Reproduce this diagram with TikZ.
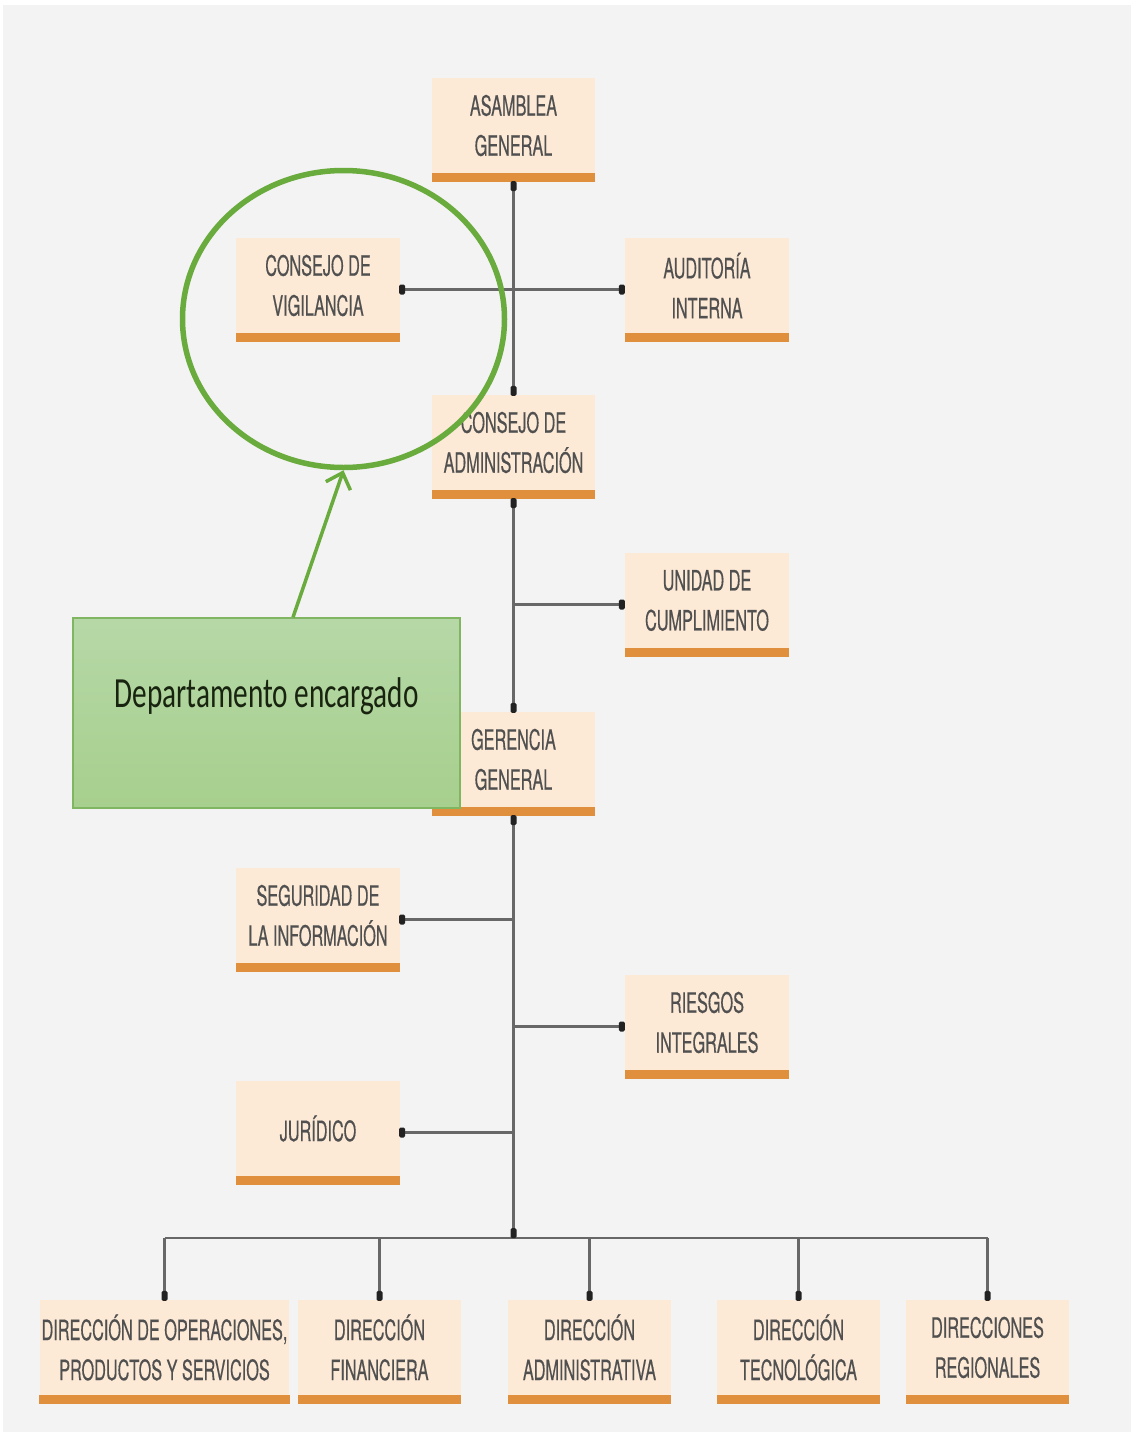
\documentclass[tikz,border=0pt]{standalone}
\usepackage{fontspec}
\usetikzlibrary{shapes.geometric,arrows.meta,calc}
\newfontfamily\orgfont[FakeStretch=0.58,FakeBold=0.4]{TeX Gyre Heros}
\newfontfamily\calfont[FakeStretch=0.68]{Carlito}
\definecolor{bgc}{HTML}{F3F3F3}
\definecolor{peach}{HTML}{FCE9D6}
\definecolor{barc}{HTML}{E08F3C}
\definecolor{txtc}{HTML}{505050}
\definecolor{linec}{HTML}{676767}
\definecolor{dotc}{HTML}{222222}
\definecolor{ringc}{HTML}{6AAB3D}
\definecolor{gtop}{HTML}{B6D8A7}
\definecolor{gbot}{HTML}{A7CF8D}
\definecolor{gborder}{HTML}{80B661}
\definecolor{gtext}{HTML}{18240F}
\begin{document}
\begin{tikzpicture}[x=1pt,y=-1pt,
  orgbox/.style={rectangle, fill=peach, minimum width=163pt, minimum height=95pt, inner sep=2pt, align=center, text=txtc,
    font=\orgfont\fontsize{28}{40}\selectfont,
    append after command={\pgfextra{\fill[barc] (\tikzlastnode.south west) rectangle ([yshift=-9pt]\tikzlastnode.south east);}}},
  conn/.style={draw=linec, line width=2.2pt},
  dotm/.style={rectangle, fill=dotc, minimum width=6pt, minimum height=10pt, inner sep=0pt, rounded corners=1.5pt},
  gbox/.style={rectangle, draw=gborder, line width=1.5pt, top color=gtop, bottom color=gbot, minimum width=387pt, minimum height=190pt, inner sep=0pt, text=gtext, font=\calfont\fontsize{43}{50}\selectfont},
]
\useasboundingbox (0,0) rectangle (1131,1432);
\fill[white] (0,0) rectangle (1131,1432);
\fill[bgc] (3,5) rectangle (1131,1432);

% org boxes
\node[orgbox] (asm) at (513.5,125.5) {ASAMBLEA\\GENERAL};
\node[orgbox, minimum width=164pt] (cvig) at (318,285.5) {CONSEJO DE\\VIGILANCIA};
\node[orgbox, minimum width=164pt] (aud) at (707,285.5) {AUDITORÍA\\INTERNA};
\node[orgbox] (cadm) at (513.5,442.5) {CONSEJO DE\\ADMINISTRACIÓN};
\node[orgbox, minimum width=164pt] (uc) at (707,600.5) {UNIDAD DE\\CUMPLIMIENTO};
\node[orgbox] (ger) at (513.5,759.5) {GERENCIA\\GENERAL};
\node[orgbox, minimum width=164pt] (seg) at (318,915.5) {SEGURIDAD DE\\LA INFORMACIÓN};
\node[orgbox, minimum width=164pt] (ries) at (707,1022.5) {RIESGOS\\INTEGRALES};
\node[orgbox, minimum width=164pt] (jur) at (318,1128.5) {JURÍDICO};
\node[orgbox, minimum width=248pt] (dop) at (164.5,1347.5) {DIRECCIÓN DE OPERACIONES,\\PRODUCTOS Y SERVICIOS};
\node[orgbox] (fin) at (379.5,1347.5) {DIRECCIÓN\\FINANCIERA};
\node[orgbox] (adm) at (589.5,1347.5) {DIRECCIÓN\\ADMINISTRATIVA};
\node[orgbox] (tec) at (798.5,1347.5) {DIRECCIÓN\\TECNOLÓGICA};
\node[orgbox] (reg) at (987.5,1347.5) {DIRECCIONES\\REGIONALES};

% connectors
\draw[conn] ([yshift=-9pt]asm.south) -- (cadm.north);
\coordinate (cvp) at ($(cvig.east)+(0,4)$);
\coordinate (aup) at ($(aud.west)+(0,4)$);
\draw[conn] (cvp) -- (aup);
\draw[conn] ([yshift=-9pt]cadm.south) -- (ger.north);
\coordinate (ucp) at ($(uc.west)+(0,4)$);
\draw[conn] (ucp) -- (ucp -| ger.north);
\coordinate (bus) at (513.5,1238);
\draw[conn] ([yshift=-9pt]ger.south) -- (bus);
\coordinate (sgp) at ($(seg.east)+(0,4)$);
\draw[conn] (sgp) -- (sgp -| bus);
\coordinate (rip) at ($(ries.west)+(0,4)$);
\draw[conn] (rip) -- (rip -| bus);
\coordinate (jup) at ($(jur.east)+(0,4)$);
\draw[conn] (jup) -- (jup -| bus);
\draw[conn] (bus -| dop.north) -- (bus -| reg.north);
\draw[conn] (bus -| dop.north) -- (dop.north);
\draw[conn] (bus -| fin.north) -- (fin.north);
\draw[conn] (bus -| adm.north) -- (adm.north);
\draw[conn] (bus -| tec.north) -- (tec.north);
\draw[conn] (bus -| reg.north) -- (reg.north);

% dots
\node[dotm] (d1) at ($(asm.south)+(0,13)$) {};
\node[dotm] (d2) at ($(cadm.north)+(0,-4)$) {};
\node[dotm] (d3) at ($(cvp)+(2,0)$) {};
\node[dotm] (d4) at ($(aup)+(-3,0)$) {};
\node[dotm] (d5) at ($(cadm.south)+(0,13)$) {};
\node[dotm] (d6) at ($(ger.north)+(0,-4)$) {};
\node[dotm] (d7) at ($(ucp)+(-3,0)$) {};
\node[dotm] (d8) at ($(ger.south)+(0,13)$) {};
\node[dotm] (d9) at ($(sgp)+(2,0)$) {};
\node[dotm] (d10) at ($(rip)+(-3,0)$) {};
\node[dotm] (d11) at ($(jup)+(2,0)$) {};
\node[dotm] (d12) at ($(bus)+(0,-5)$) {};
\node[dotm] (d13) at ($(dop.north)+(0,-4)$) {};
\node[dotm] (d14) at ($(fin.north)+(0,-4)$) {};
\node[dotm] (d15) at ($(adm.north)+(0,-4)$) {};
\node[dotm] (d16) at ($(tec.north)+(0,-4)$) {};
\node[dotm] (d17) at ($(reg.north)+(0,-4)$) {};

% annotation
\node[gbox] (dep) at (266.5,713) {\raisebox{6pt}[0pt][0pt]{\makebox[0pt]{Departamento encargado}}};
\node[ellipse, draw=ringc, line width=5.5pt, minimum width=322pt, minimum height=297pt, inner sep=0pt] (ring) at (343.5,319) {};
\draw[ringc, line width=3.5pt, -{Straight Barb[length=14pt,width=26pt]}] ([xshift=26.5pt]dep.north) -- (ring.south);
\end{tikzpicture}
\end{document}
